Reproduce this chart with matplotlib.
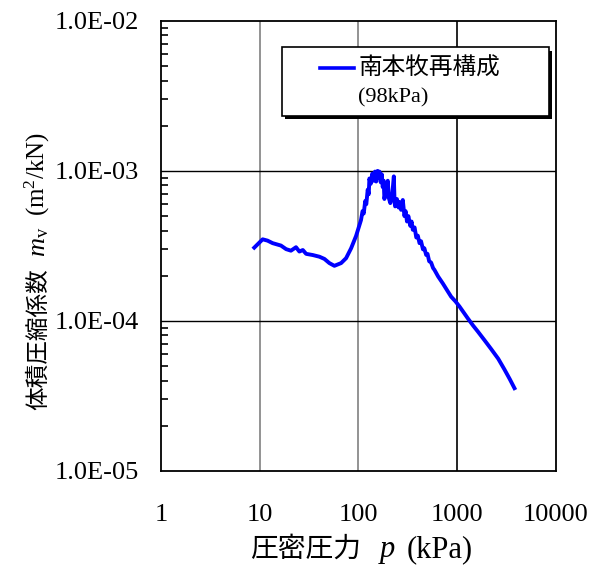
import matplotlib
matplotlib.use('Agg')
import matplotlib.pyplot as plt
from matplotlib.patches import Rectangle
from matplotlib.ticker import LogLocator, FixedLocator, FixedFormatter, NullFormatter

plt.rcParams['font.family'] = ['Liberation Serif', 'Noto Sans CJK JP']
plt.rcParams['mathtext.fontset'] = 'custom'
plt.rcParams['mathtext.rm'] = 'Liberation Serif'
plt.rcParams['mathtext.it'] = 'Liberation Serif:italic'

# consolidation pressure p (kPa) and coefficient of volume compressibility mv (m2/kN)
pressure = [8.8, 10.7, 12.0, 13.5, 16.4, 18.5, 20.7, 23.3, 25.2, 27.3, 29.5, 34.4,
            40.2, 45.2, 50.7, 57.0, 66.7, 74.9, 84.2, 94.6, 106, 110, 113, 117,
            120, 124, 127, 129, 133, 138, 142, 147, 151, 156, 160, 163, 168, 172,
            176, 180, 183, 190, 198, 203, 210, 220, 228, 232, 235, 245, 255, 260,
            270, 281, 292, 300, 310, 320, 335, 345, 355, 370, 385, 399, 415, 430,
            450, 465, 485, 500, 520, 544, 570, 588, 640, 714, 790, 868, 960, 1052,
            1150, 1280, 1450, 1617, 1900, 2204, 2600, 3006, 3400, 3800]
mv = [3.08e-4, 3.50e-4, 3.43e-4, 3.30e-4, 3.18e-4, 3.01e-4, 2.94e-4, 3.10e-4,
      2.90e-4, 2.97e-4, 2.80e-4, 2.75e-4, 2.68e-4, 2.59e-4, 2.43e-4, 2.33e-4,
      2.43e-4, 2.62e-4, 3.05e-4, 3.69e-4, 4.70e-4, 5.40e-4, 5.20e-4, 6.30e-4,
      6.00e-4, 7.50e-4, 7.00e-4, 8.90e-4, 8.20e-4, 9.60e-4, 8.60e-4, 9.90e-4,
      8.50e-4, 1.00e-3, 9.00e-4, 9.90e-4, 8.40e-4, 9.50e-4, 7.80e-4, 8.60e-4,
      6.50e-4, 7.50e-4, 8.60e-4, 6.60e-4, 6.10e-4, 7.00e-4, 9.20e-4, 6.20e-4,
      5.80e-4, 6.50e-4, 5.70e-4, 6.20e-4, 5.50e-4, 6.40e-4, 5.00e-4, 5.40e-4,
      4.60e-4, 5.00e-4, 4.30e-4, 4.60e-4, 4.05e-4, 4.20e-4, 3.60e-4, 3.70e-4,
      3.30e-4, 3.40e-4, 3.00e-4, 3.05e-4, 2.75e-4, 2.80e-4, 2.50e-4, 2.45e-4,
      2.25e-4, 2.19e-4, 1.98e-4, 1.78e-4, 1.60e-4, 1.45e-4, 1.35e-4, 1.25e-4,
      1.15e-4, 1.04e-4, 9.30e-5, 8.50e-5, 7.40e-5, 6.50e-5, 5.60e-5, 4.75e-5,
      4.10e-5, 3.56e-5]

x_ticks = [1, 10, 100, 1000, 10000]
x_labels = ['1', '10', '100', '1000', '10000']
y_ticks = [1e-5, 1e-4, 1e-3, 1e-2]
y_labels = ['1.0E-05', '1.0E-04', '1.0E-03', '1.0E-02']

fig = plt.figure(figsize=(6.03, 5.66), dpi=100)
ax = fig.add_axes([0.267, 0.168, 0.655, 0.795])

ax.plot(pressure, mv, color='#0000ff', linewidth=2.8, solid_joinstyle='round')

ax.set_xscale('log')
ax.set_yscale('log')
ax.set_xlim(1, 10000)
ax.set_ylim(1e-5, 1e-2)

# grid lines
for gx, gc in [(10, '#808080'), (100, '#808080'), (1000, 'black')]:
    ax.axvline(gx, color=gc, linewidth=1.2, zorder=1)
for gy in [1e-4, 1e-3]:
    ax.axhline(gy, color='black', linewidth=1.0, zorder=1)

ax.xaxis.set_major_locator(FixedLocator(x_ticks))
ax.xaxis.set_major_formatter(FixedFormatter(x_labels))
ax.yaxis.set_major_locator(FixedLocator(y_ticks))
ax.yaxis.set_major_formatter(FixedFormatter(y_labels))
ax.xaxis.set_minor_locator(LogLocator(base=10, subs=range(2, 10)))
ax.yaxis.set_minor_locator(LogLocator(base=10, subs=range(2, 10)))
ax.xaxis.set_minor_formatter(NullFormatter())
ax.yaxis.set_minor_formatter(NullFormatter())
ax.tick_params(which='both', direction='in', top=False, right=False,
               labelsize=19, width=1.2)
ax.tick_params(which='major', length=0)
ax.tick_params(which='minor', length=5)
ax.tick_params(axis='x', which='major', pad=24)
ax.tick_params(axis='y', which='major', pad=16)
for s in ax.spines.values():
    s.set_linewidth(1.3)

# axis titles: Japanese part in sans, symbols and units in serif
cjk = ['Noto Sans CJK JP']
fig.text(250 / 603, 1 - 557 / 566, '圧密圧力', fontsize=20, family=cjk,
         ha='left', va='baseline')
fig.text(378 / 603, 1 - 557 / 566, '$p$', fontsize=22, ha='left', va='baseline')
fig.text(407 / 603, 1 - 557 / 566, '(kPa)', fontsize=22, ha='left', va='baseline')

fig.text(45 / 603, 1 - 410 / 566, '体積圧縮係数', fontsize=17, family=cjk,
         rotation=90, rotation_mode='anchor', ha='left', va='baseline')
fig.text(45 / 603, 1 - 257 / 566, '$m_{\\mathrm{v}}$', fontsize=19,
         rotation=90, rotation_mode='anchor', ha='left', va='baseline')
fig.text(45 / 603, 1 - 216 / 566, '$\\mathrm{(m^2/kN)}$', fontsize=18,
         rotation=90, rotation_mode='anchor', ha='left', va='baseline')

# legend box with drop shadow
ax.add_patch(Rectangle((0.314, 0.781), 0.676, 0.153, transform=ax.transAxes,
                       facecolor='black', edgecolor='none', zorder=4))
ax.add_patch(Rectangle((0.306, 0.789), 0.676, 0.153, transform=ax.transAxes,
                       facecolor='white', edgecolor='black', linewidth=1.2, zorder=5))
ax.plot([0.403, 0.489], [0.896, 0.896], transform=ax.transAxes,
        color='#0000ff', linewidth=2.6, zorder=6)
ax.text(0.499, 0.896, '南本牧再構成', transform=ax.transAxes, fontsize=17,
        family=cjk, va='center', ha='left', zorder=6)
ax.text(0.499, 0.829, '(98kPa)', transform=ax.transAxes, fontsize=16,
        va='center', ha='left', zorder=6)

fig.savefig('out.png', dpi=100)
